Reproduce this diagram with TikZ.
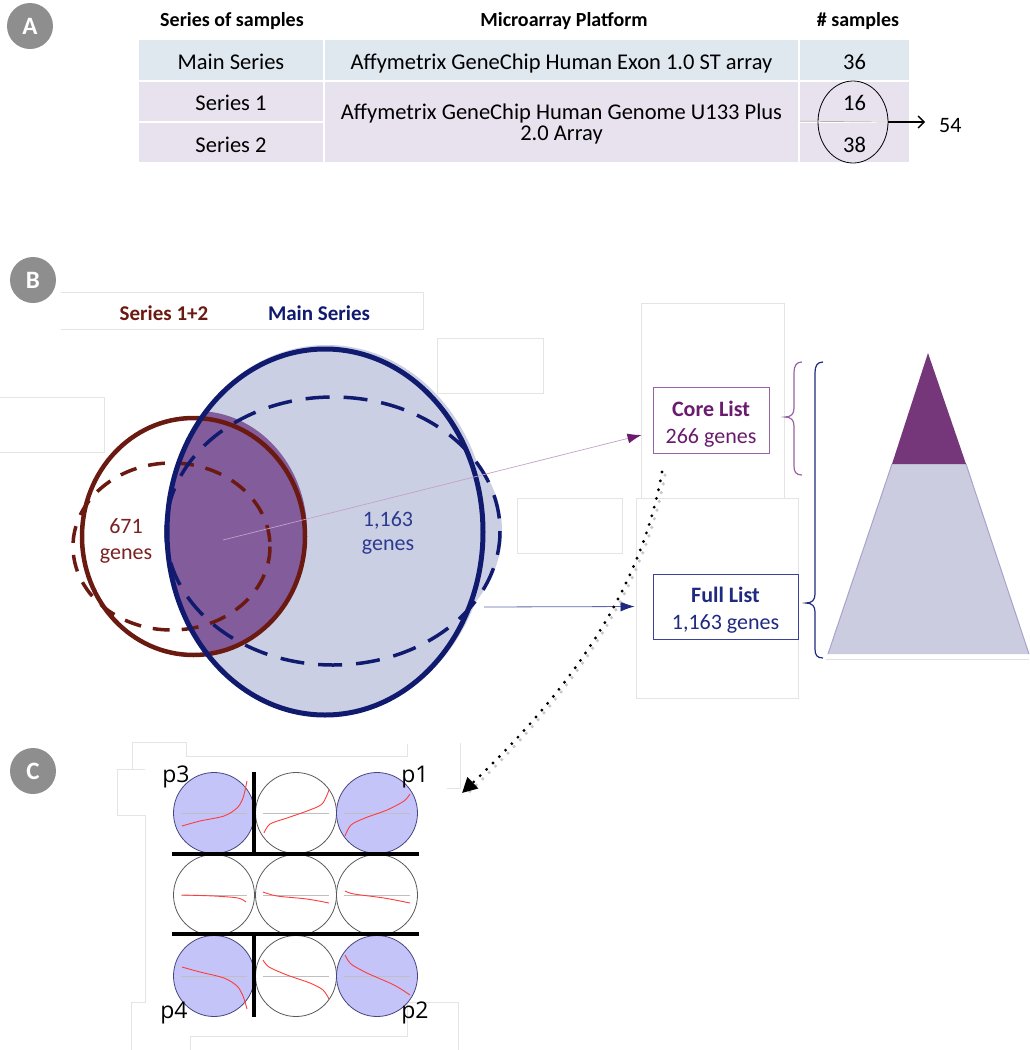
\documentclass[tikz,border=0pt]{standalone}
\usepackage{fontspec}
\setmainfont{Carlito}
\newfontfamily\labfont{Open Sans}
\usetikzlibrary{arrows.meta,calc,shapes.geometric}
\newcommand\myfs[1]{\fontsize{#1}{#1}\selectfont}
\definecolor{labgray}{HTML}{8E8E8E}
\definecolor{rowblue}{HTML}{DFE7EF}
\definecolor{rowpurp}{HTML}{E8E1EE}
\definecolor{dred}{HTML}{6B1A12}
\definecolor{dnavy}{HTML}{101A6E}
\definecolor{vfill}{HTML}{CBCFE4}
\definecolor{vpurp}{HTML}{835C9C}
\definecolor{lred}{HTML}{7A2222}
\definecolor{lnavy}{HTML}{2B3A8F}
\definecolor{corec}{HTML}{6A1B6E}
\definecolor{coreb}{HTML}{9A62A6}
\definecolor{fullc}{HTML}{1F2A80}
\definecolor{fullb}{HTML}{3A4198}
\definecolor{tripurp}{HTML}{75377A}
\definecolor{trilav}{HTML}{CBCCE0}
\definecolor{triedge}{HTML}{A7A3CC}
\definecolor{faint}{HTML}{E4E4E4}
\definecolor{ballblue}{HTML}{C4C4F8}
\definecolor{ballline}{HTML}{454580}
\definecolor{curvered}{HTML}{FF3C3C}
\begin{document}
\begin{tikzpicture}[x=1pt,y=-1pt,
  panellabel/.style={circle,fill=labgray,text=white,font=\myfs{25}\bfseries,minimum size=46pt,inner sep=0pt},
  hdr/.style={font=\myfs{20}\bfseries,inner sep=0pt},
  cellb/.style={fill=rowblue,inner sep=0pt,font=\myfs{22.5},text height=18pt,text depth=0pt},
  cellp/.style={fill=rowpurp,inner sep=0pt,font=\myfs{22.5},text height=18pt,text depth=0pt},
  faintline/.style={draw=faint,line width=0.8pt},
  listbox/.style={draw,line width=1pt,fill=white,align=center,inner sep=0pt},
  ballb/.style={circle,draw=ballline,fill=ballblue,line width=0.8pt,minimum size=81pt,inner sep=0pt},
  ballw/.style={circle,draw=black!65,fill=white,line width=0.8pt,minimum size=81pt,inner sep=0pt},
  rc/.style={draw=curvered,line width=0.9pt},
  midl/.style={draw=black!25,line width=0.9pt},
  thickbar/.style={line width=4pt,black},
  plab/.style={font=\labfont\myfs{23},inner sep=0pt}
]
\useasboundingbox (0,0) rectangle (1029,1050);
\fill[white] (0,0) rectangle (1029,1050);

% ---------- Panel A ----------
\node[panellabel] (pa) at (30,26) {A};
\node[hdr] (h1) at (232,21.5) {Series of samples};
\node[hdr] (h2) at (564,21.5) {Microarray Platform};
\node[hdr] (h3) at (858,21.5) {\# samples};

\node[cellb,minimum width=184pt,minimum height=40pt] (m1) at (231,60) {Main Series};
\node[cellb,minimum width=473pt,minimum height=40pt] (m2) at (561.5,60) {Affymetrix GeneChip Human Exon 1.0 ST array};
\node[cellb,minimum width=109pt,minimum height=40pt] (m3) at (854.5,60) {36};
\node[cellp,minimum width=184pt,minimum height=39pt] (s1) at (231,101.5) {Series 1};
\node[cellp,minimum width=184pt,minimum height=39pt,text height=20pt] (s2) at (231,142.5) {Series 2};
\node[cellp,minimum width=473pt,minimum height=80pt,align=center,font=\fontsize{22.5}{21}\selectfont,text height=,text depth=] (sp) at (561.5,122) {\rule{0pt}{20pt}Affymetrix GeneChip Human Genome U133 Plus\\2.0 Array};
\node[cellp,minimum width=109pt,minimum height=39pt] (n16) at (854.5,101.5) {16};
\node[cellp,minimum width=109pt,minimum height=39pt,text height=20pt] (n38) at (854.5,142.5) {38};
\node[draw,ellipse,line width=0.8pt,minimum width=70pt,minimum height=82pt,inner sep=0pt] (ell) at (853,122) {};
\node[font=\myfs{22},inner sep=0pt,anchor=west] (n54) at (939,126) {54};
\draw[black!30,line width=0.7pt] (n16.south west) -- (ell.east);
\draw[line width=1.3pt,-{Straight Barb[length=6pt,width=12pt]}] (ell.east) -- ([xshift=-14pt,yshift=4pt]n54.west);

% ---------- Panel B ----------
\node[panellabel] (pb) at (33,280) {B};
% faint artifact boxes
\draw[faintline] (61,292) -- (423,292) -- (423,329) -- (61,329);
\draw[faintline] (0,397) -- (104,397) -- (104,452) -- (0,452);
\draw[faintline] (437,338) rectangle (543,393);
\draw[faintline] (517,498) rectangle (622,553);
\draw[faintline] (641,498) -- (641,303) -- (784,303) -- (784,498);
\draw[faintline] (636,498) rectangle (798,698);

\node[font=\myfs{21}\bfseries,text=dred,inner sep=0pt] (lg1) at (164,313) {Series 1+2};
\node[font=\myfs{21}\bfseries,text=dnavy,inner sep=0pt] (lg2) at (319,313) {Main Series};

% Venn fills
\fill[vfill] (327,530) ellipse [x radius=161, y radius=185];
\fill[vfill] (333,531) ellipse [x radius=169, y radius=132];
\begin{scope}
  \clip (325,532) ellipse [x radius=158, y radius=183];
  \fill[vpurp] (197,532) ellipse [x radius=110, y radius=121];
\end{scope}
% Venn outlines
\draw[dred,line width=3.5pt,dash pattern=on 17pt off 12pt] (171.5,546.5) ellipse [x radius=98.5, y radius=83.5];
\draw[dred,line width=4.5pt] (193.5,536.5) ellipse [x radius=111.5, y radius=118.5];
\draw[dnavy,line width=3.5pt,dash pattern=on 24pt off 14pt] (333,531) ellipse [x radius=167, y radius=134];
\draw[dnavy,line width=5pt] (325,532) ellipse [x radius=158, y radius=183];

\node[font=\myfs{22},text=lred,align=center,inner sep=0pt] (v671) at (126,541) {671\\[4pt]genes};
\node[font=\myfs{22},text=lnavy,align=center,inner sep=0pt] (v1163) at (388,533) {1,163\\[2pt]genes};

\coordinate (vc) at (223,540);
\coordinate (vr) at (484,607);

% lists
\node[listbox,draw=coreb,text=corec,minimum width=116pt,minimum height=66pt,font=\fontsize{22}{27}\selectfont] (core) at (711,420) {\rule{0pt}{23pt}\textbf{Core List}\\266 genes};
\node[listbox,draw=fullb,text=fullc,minimum width=145pt,minimum height=65pt,font=\fontsize{22}{27}\selectfont] (full) at (725.5,606.5) {\rule{0pt}{23pt}\textbf{Full List}\\1,163 genes};

\draw[draw=coreb!60,line width=0.7pt,-{Latex[length=14pt,width=10pt,color=corec]}] (vc) -- ([xshift=-11pt,yshift=-15pt]core.west);
\draw[draw=fullb!80,line width=0.8pt,-{Latex[length=14pt,width=10pt,color=fullc]}] (vr) -- ([xshift=-18pt]full.west);

% braces
\draw[coreb,line width=1.2pt] (802,362) .. controls (796,362) and (794,366) .. (794,373) -- (794,408) .. controls (794,414) and (791,417) .. (785,417) .. controls (791,417) and (794,420) .. (794,426) -- (794,466) .. controls (794,472) and (796,475) .. (802,475);
\draw[fullc,line width=1.2pt] (823,362) .. controls (817,362) and (815,366) .. (815,373) -- (815,594) .. controls (815,600) and (812,603) .. (806,603) .. controls (812,603) and (815,606) .. (815,612) -- (815,649) .. controls (815,655) and (817,658) .. (823,658);

% pyramid
\fill[trilav] (892,464) -- (966,464) -- (1029,654) -- (828,654) -- cycle;
\draw[triedge,line width=1pt] (892,464) -- (828,654);
\draw[triedge,line width=1pt] (966,464) -- (1029,654);
\fill[tripurp] (928,353) -- (966,464) -- (892,464) -- cycle;
\draw[black!12,line width=1pt] (826,659) -- (1029,659);

% dotted arrow
\coordinate (dstart) at (662,472);
\coordinate (dend) at (462,793);
\draw[black!22,line width=3.5pt,line cap=round,dash pattern=on 0pt off 9pt] ([shift={(3,3)}]dstart) .. controls (642,600) and (563,703) .. ([shift={(3,3)}]dend);
\draw[black,line width=3.2pt,line cap=round,dash pattern=on 0pt off 9pt,-{Triangle[length=15pt,width=15pt]}] (dstart) .. controls (640,598) and (560,700) .. (dend);

% ---------- Panel C ----------
\node[panellabel] (pc) at (33,771) {C};
\draw[faintline] (132,769) -- (132,742) -- (186,742) -- (186,756) -- (407,756) -- (407,744);
\draw[faintline] (145,769) -- (117,769) -- (117,815) -- (145,815) -- (145,1002) -- (131,1002) -- (131,1050);
\draw[faintline] (190,1050) -- (190,1036) -- (407,1036) -- (407,1002) -- (458,1002) -- (458,1050);
\draw[faintline] (460,743) -- (460,788) -- (447,788);

\node[ballb] (b11) at (214,813) {};
\node[ballw] (b12) at (296,813) {};
\node[ballb] (b13) at (377,813) {};
\node[ballw] (b21) at (214,895) {};
\node[ballw] (b22) at (296,895) {};
\node[ballw] (b23) at (377,895) {};
\node[ballb] (b31) at (214,976) {};
\node[ballw] (b32) at (296,976) {};
\node[ballb] (b33) at (377,976) {};

\foreach \b in {b11,b12,b13,b21,b22,b23,b31,b32,b33}{
  \draw[midl] ([xshift=-33pt]\b.center) -- ([xshift=33pt]\b.center);
}
\begin{scope}[shift={(b11.center)}]
 \draw[rc] plot[smooth] coordinates {(-32,13) (-14,8) (10,3) (23,-5) (29,-15) (33,-32)};
\end{scope}
\begin{scope}[shift={(b12.center)}]
 \draw[rc] plot[smooth] coordinates {(-32,20) (-26,11) (-9,5) (11,-2) (26,-9) (33,-23)};
\end{scope}
\begin{scope}[shift={(b13.center)}]
 \draw[rc] plot[smooth] coordinates {(-32,23) (-26,12) (-12,5) (10,-3) (27,-12) (33,-19)};
\end{scope}
\begin{scope}[shift={(b21.center)}]
 \draw[rc] plot[smooth] coordinates {(-32,0) (0,1) (24,3) (32,7)};
\end{scope}
\begin{scope}[shift={(b22.center)}]
 \draw[rc] plot[smooth] coordinates {(-33,-3) (-19,1) (11,4) (33,8)};
\end{scope}
\begin{scope}[shift={(b23.center)}]
 \draw[rc] plot[smooth] coordinates {(-32,-4) (-23,-1) (7,3) (33,8)};
\end{scope}
\begin{scope}[shift={(b31.center)}]
 \draw[rc] plot[smooth] coordinates {(-32,-9) (-14,-4) (10,2) (23,10) (29,20) (33,33)};
\end{scope}
\begin{scope}[shift={(b32.center)}]
 \draw[rc] plot[smooth] coordinates {(-33,-16) (-27,-9) (-9,-1) (14,7) (27,14) (33,23)};
\end{scope}
\begin{scope}[shift={(b33.center)}]
 \draw[rc] plot[smooth] coordinates {(-32,-21) (-26,-12) (-10,-3) (17,9) (33,19)};
\end{scope}

\coordinate (hl1) at (172,854);
\coordinate (hr1) at (419,854);
\coordinate (hl2) at (172,934);
\coordinate (hr2) at (419,934);
\draw[thickbar] (hl1) -- (hr1);
\draw[thickbar] (hl2) -- (hr2);
\draw[thickbar] (254,772) -- (254,854);
\draw[thickbar] (254,934) -- (254,1017);

\node[plab] (p3) at (176,777) {p3};
\node[plab] (p1) at (415,777) {p1};
\node[plab] (p4) at (174,1013) {p4};
\node[plab] (p2) at (415,1013) {p2};
\end{tikzpicture}
\end{document}
